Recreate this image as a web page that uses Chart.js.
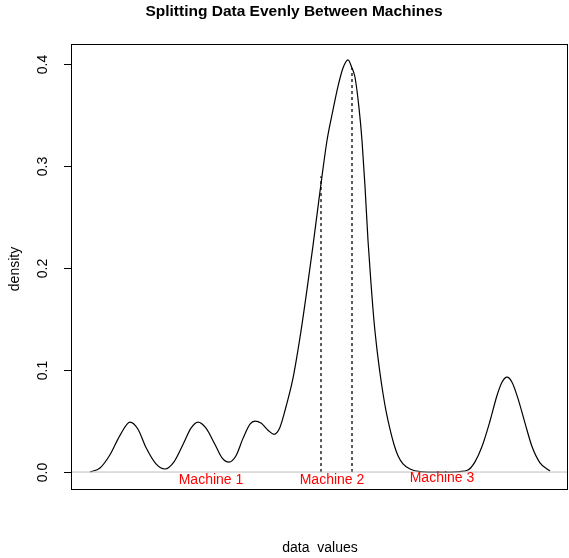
<!DOCTYPE html>
<html>
<head>
<meta charset="utf-8">
<title>Splitting Data Evenly Between Machines</title>
<script src="https://cdn.jsdelivr.net/npm/chart.js@4/dist/chart.umd.min.js"></script>
<style>
  html, body { margin: 0; padding: 0; background: #fff; }
  canvas { display: block; }
</style>
</head>
<body>
<canvas id="chart" width="569" height="558"></canvas>
<script>
// ====================================
// DATA
// ====================================

// density curve, x in arbitrary data units
const curveX = [0, 10, 20, 30, 40, 48, 56, 66, 75, 84, 93, 101, 108, 116, 125, 132, 139,
    146, 153, 160, 165, 171, 178, 184, 190, 196, 203, 210, 216, 223, 228, 232, 237, 243,
    248, 253, 258, 262, 265, 269, 272, 275, 278, 281, 284, 287, 290, 293, 296, 300, 304,
    308, 313, 320, 330, 350, 370, 378, 385, 392, 400, 407, 412, 417, 422, 428, 435, 442,
    450, 460];
const curveY = [0.0, 0.004, 0.017, 0.036, 0.049, 0.042, 0.024, 0.008, 0.003, 0.010, 0.027,
    0.043, 0.049, 0.043, 0.027, 0.014, 0.0098, 0.016, 0.033, 0.047, 0.050, 0.048, 0.041,
    0.037, 0.044, 0.064, 0.092, 0.132, 0.172, 0.222, 0.26, 0.29, 0.325, 0.355, 0.378,
    0.396, 0.404, 0.396, 0.387, 0.357, 0.325, 0.28, 0.227, 0.185, 0.148, 0.12, 0.097,
    0.077, 0.06, 0.042, 0.027, 0.016, 0.008, 0.003, 0.0005, 0.0, 0.0005, 0.002, 0.01, 0.025,
    0.05, 0.075, 0.088, 0.093, 0.088, 0.072, 0.048, 0.025, 0.009, 0.001];

// where the data is split between machines
const splitX = [231, 262];
const splitY = [0.29, 0.396];

// machine labels
const machineNames = ['Machine 1', 'Machine 2', 'Machine 3'];
const machineX = [121, 242, 352];
const machineY = [-0.008, -0.008, -0.006];

// axes
const yTicks = [0.0, 0.1, 0.2, 0.3, 0.4];
const xRange = [-18, 478];
const yRange = [-0.0176, 0.4196];

const FONT = '"Liberation Sans", Arial, Helvetica, sans-serif';

// Build datasets
const curvePoints = curveX.map((x, i) => ({ x: x, y: curveY[i] }));

const datasets = [{
    label: 'zero',
    data: [{ x: xRange[0], y: 0 }, { x: xRange[1], y: 0 }],
    borderColor: '#bebebe',
    borderWidth: 1
}, {
    label: 'density',
    data: curvePoints,
    borderColor: '#000000',
    borderWidth: 1.2,
    cubicInterpolationMode: 'monotone'
}];

splitX.forEach((x, i) => {
    datasets.push({
        label: 'split ' + (i + 1),
        data: [{ x: x, y: 0 }, { x: x, y: splitY[i] }],
        borderColor: '#000000',
        borderWidth: 1.3,
        borderDash: [3, 3]
    });
});

// Draws the R-style frame, ticks and text through the chart's scales
const basePlotPlugin = {
    id: 'basePlot',
    afterDraw(chart) {
        const ctx = chart.ctx;
        const area = chart.chartArea;
        const xs = chart.scales.x;
        const ys = chart.scales.y;

        ctx.save();

        // box
        ctx.strokeStyle = '#000';
        ctx.lineWidth = 1;
        ctx.strokeRect(Math.round(area.left) - 0.5, Math.round(area.top) + 0.5,
            Math.round(area.right - area.left), Math.round(area.bottom - area.top) - 1);

        // y ticks and rotated labels
        ctx.fillStyle = '#000';
        ctx.font = '14px ' + FONT;
        ctx.textAlign = 'center';
        ctx.textBaseline = 'middle';
        yTicks.forEach(v => {
            const py = Math.round(ys.getPixelForValue(v)) + 0.5;
            ctx.beginPath();
            ctx.moveTo(area.left - 8, py);
            ctx.lineTo(area.left, py);
            ctx.stroke();
            ctx.save();
            ctx.translate(area.left - 29, py);
            ctx.rotate(-Math.PI / 2);
            ctx.fillText(v.toFixed(1), 0, 0);
            ctx.restore();
        });

        // axis titles
        ctx.save();
        ctx.translate(15, (area.top + area.bottom) / 2 + 2);
        ctx.rotate(-Math.PI / 2);
        ctx.fillText('density', 0, 0);
        ctx.restore();
        ctx.fillText('data  values', 320, 548);

        // main title
        ctx.font = 'bold 15.5px ' + FONT;
        ctx.fillText('Splitting Data Evenly Between Machines', 294, 12);

        // machine labels
        ctx.fillStyle = '#ff0000';
        ctx.font = '14px ' + FONT;
        machineNames.forEach((name, i) => {
            ctx.fillText(name, xs.getPixelForValue(machineX[i]), ys.getPixelForValue(machineY[i]));
        });

        ctx.restore();
    }
};

new Chart(document.getElementById('chart'), {
    type: 'scatter',
    data: { datasets: datasets },
    options: {
        responsive: false,
        animation: false,
        devicePixelRatio: 1,
        showLine: true,
        elements: {
            point: { radius: 0, hoverRadius: 0 }
        },
        layout: {
            padding: { left: 72, top: 44, right: 1, bottom: 68 }
        },
        plugins: {
            legend: { display: false },
            title: { display: false },
            tooltip: { enabled: false }
        },
        scales: {
            x: { type: 'linear', min: xRange[0], max: xRange[1], display: false },
            y: { type: 'linear', min: yRange[0], max: yRange[1], display: false }
        }
    },
    plugins: [basePlotPlugin]
});
</script>
</body>
</html>
